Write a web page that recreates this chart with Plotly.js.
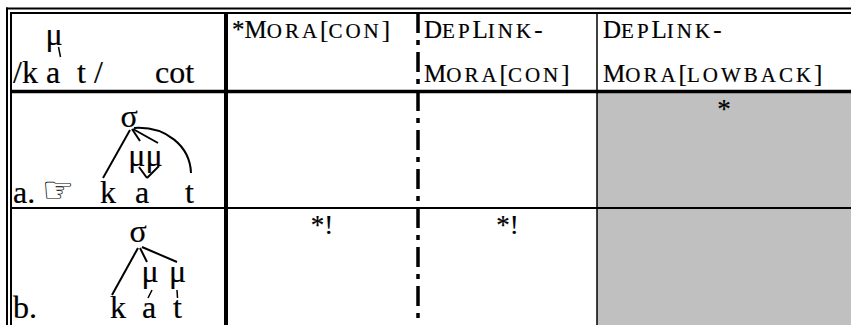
<!DOCTYPE html>
<html><head><meta charset="utf-8">
<script src="https://cdn.plot.ly/plotly-3.0.1.min.js"></script>
<style>html,body{margin:0;padding:0;background:#fff;overflow:hidden}#chart{width:851px;height:325px}</style>
</head><body><div id="chart"></div>
<script>
// ---------- data ----------
const inputParts = ['/k a', 't /'];
const inputMora = 'μ';
const gloss = 'cot';
const constraintLines = [['*Mora[con]'], ['DepLink-', 'Mora[con]'], ['DepLink-', 'Mora[lowback]']];
const candidateLabels = ['a.', 'b.'];
const winner = [true, false];
const candSegments = [['k', 'a', 't'], ['k', 'a', 't']];
const candSyllable = ['σ', 'σ'];
const candMoras = [['μμ'], ['μ', 'μ']];
const violations = [['', '', '*'], ['*!', '*!', '']];
const shaded = [[false, false, true], [false, false, true]];

// ---------- layout geometry ----------
const W = 851, H = 325;
const colX = [11, 226, 418, 597, 851];
const rowY = [13, 91.5, 208, 325];
const SERIF = 'Liberation Serif';
const SANS = 'DejaVu Sans';
const HEAD = 25, SMALL = 21, CAND = 32, MARK = 27;
const INK = 'stroke:#000;stroke-width:0.2px';

function smallCaps(s) {
  return s.replace(/[a-z]+/g, m => '<span style="font-size:' + SMALL + 'px;letter-spacing:3px;' + INK + '">' + m.toUpperCase() + '</span>')
          .replace(/(^|<\/span>)([^<]+)/g, (all, a, b) => a + '<span style="' + INK + '">' + b + '</span>');
}
function ink(s) { return '<span style="' + INK + '">' + s + '</span>'; }

const groups = {};
function txt(anchor, x, baseline, text, size, fam, raw) {
  fam = fam || SERIF;
  const key = anchor + '|' + fam;
  if (!groups[key]) groups[key] = {anchor, fam, x: [], y: [], text: [], size: []};
  const t = groups[key];
  t.x.push(x); t.y.push(baseline - 0.25 * size); t.text.push(raw ? text : ink(text)); t.size.push(size);
}

// header: input
txt('center', 54, 45, inputMora, CAND);
txt('left', 13, 83, inputParts[0], CAND);
txt('left', 77, 83, inputParts[1], CAND);
txt('left', 155, 83, gloss, CAND);

// header: constraints
const headBase = [38, 82];
constraintLines.forEach((lines, j) => {
  lines.forEach((ln, k) => txt('left', colX[j + 1] + 6, headBase[k], smallCaps(ln), HEAD, SERIF, true));
});

// candidates
const labelBase = [203, 318];
candidateLabels.forEach((lab, i) => {
  txt('left', 13, labelBase[i], lab, CAND);
  if (winner[i]) txt('left', 42, labelBase[i] - 1, '☞', 36, SANS, true);
});
// candidate a structure
const segXa = [100, 135, 185];
candSegments[0].forEach((s, k) => txt('left', segXa[k], 203, s, CAND));
txt('center', 129, 127, candSyllable[0], CAND);
txt('center', 145.5, 166, candMoras[0][0], CAND);
// candidate b structure
const segXb = [110, 142, 173];
candSegments[1].forEach((s, k) => txt('left', segXb[k], 318, s, CAND));
txt('center', 138, 242, candSyllable[1], CAND);
txt('center', 150, 282, candMoras[1][0], CAND);
txt('center', 177.5, 282, candMoras[1][1], CAND);

// violation marks
violations.forEach((row, i) => row.forEach((v, j) => {
  if (v) txt('center', (colX[j + 1] + colX[j + 2]) / 2, rowY[i + 1] + 26, v, MARK);
}));

const traces = Object.values(groups).map(t => ({
  type: 'scatter', mode: 'text', x: t.x, y: t.y, text: t.text,
  textposition: t.anchor === 'left' ? 'middle right' : 'middle center',
  textfont: {size: t.size, family: t.fam, color: '#000'},
  hoverinfo: 'skip', showlegend: false, cliponaxis: false
}));

const shapes = [];
function ln(x0, y0, x1, y1, w, dash) {
  shapes.push({type: 'line', xref: 'x', yref: 'y', x0, y0, x1, y1, line: {color: '#000', width: w, dash: dash || 'solid'}});
}
// shaded cells
shaded.forEach((row, i) => row.forEach((s, j) => {
  if (s) shapes.push({type: 'rect', xref: 'x', yref: 'y', layer: 'below', x0: colX[j + 1], x1: colX[j + 2],
    y0: rowY[i + 1], y1: rowY[i + 2], fillcolor: '#c0c0c0', line: {width: 0}});
}));
// table frame
ln(6, 8.5, W, 8.5, 2);
ln(10, 13, W, 13, 2);
ln(7, 7.5, 7, H, 2);
ln(11, 12, 11, H, 2);
ln(colX[1], 13, colX[1], H, 4);
ln(11, rowY[1], W, rowY[1], 3.5);
ln(11, rowY[2], W, rowY[2], 2);
ln(colX[2], 13, colX[2], H, 3.5, '20px,7px,5px,7px');
ln(colX[3], 13, colX[3], H, 1.5);
// input tick
ln(58.5, 47, 60.5, 57, 1.5);
// candidate a tree
ln(130, 130, 103, 178, 2);
ln(132, 129, 140, 141, 2);
ln(133, 129, 158, 143, 2);
shapes.push({type: 'path', xref: 'x', yref: 'y', path: 'M 134 128 C 166 126, 190 146, 191 173', line: {color: '#000', width: 2}});
ln(139, 167, 147, 178, 2);
ln(147, 178, 159, 166, 2);
// candidate b tree
ln(138, 248, 112, 295, 2);
ln(140, 248, 147, 262, 2);
ln(142, 247, 177, 262, 2);
ln(152, 290, 148, 298, 1.5);
ln(177, 290, 177.5, 298, 1.5);

const layout = {
  width: W, height: H, margin: {l: 0, r: 0, t: 0, b: 0, pad: 0},
  font: {family: SERIF, color: '#000'},
  paper_bgcolor: '#fff', plot_bgcolor: '#fff', showlegend: false,
  xaxis: {range: [0, W], visible: false, fixedrange: true},
  yaxis: {range: [H, 0], visible: false, fixedrange: true},
  shapes
};
Plotly.newPlot('chart', traces, layout, {staticPlot: true, displayModeBar: false});
</script></body></html>
